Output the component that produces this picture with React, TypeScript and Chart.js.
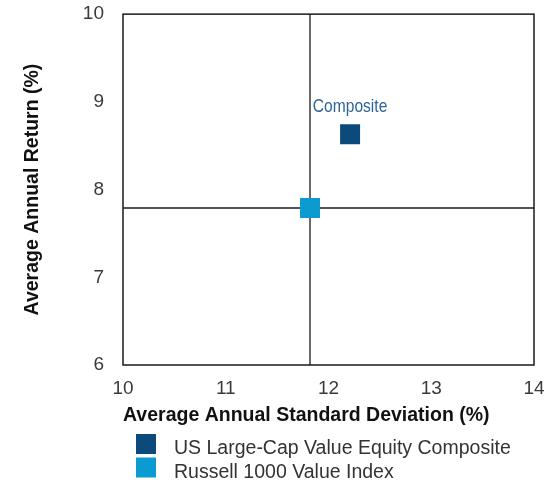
import React, { useEffect, useRef } from "react";
import { Chart, registerables } from "chart.js";

Chart.register(...registerables);

const seriesNames = ["US Large-Cap Value Equity Composite", "Russell 1000 Value Index"];
const stdDevValues = [12.21, 11.82];
const returnValues = [8.63, 7.79];
const pointLabels = ["Composite", ""];
const seriesColors = ["#0c4a7c", "#0b9bd1"];
const xTicks = [10, 11, 12, 13, 14];
const yTicks = [6, 7, 8, 9, 10];
const xTitle = "Average Annual Standard Deviation (%)";
const yTitle = "Average Annual Return (%)";
const benchmarkIndex = 1;

const FONT = "'Liberation Sans', Arial, sans-serif";

export default function App() {
  const ref = useRef<HTMLCanvasElement | null>(null);

  useEffect(() => {
    document.body.style.margin = "0";
    const canvas = ref.current;
    if (!canvas) return;

    const frame = {
      id: "frameAndCross",
      beforeDatasetsDraw(chart: any) {
        const { ctx, chartArea: a, scales } = chart;
        ctx.save();
        ctx.strokeStyle = "#1a1a1a";
        ctx.lineWidth = 1.3;
        const bx = scales.x.getPixelForValue(stdDevValues[benchmarkIndex]);
        const by = scales.y.getPixelForValue(returnValues[benchmarkIndex]);
        ctx.beginPath();
        ctx.moveTo(bx, a.top);
        ctx.lineTo(bx, a.bottom);
        ctx.moveTo(a.left, by);
        ctx.lineTo(a.right, by);
        ctx.stroke();
        ctx.lineWidth = 1.5;
        ctx.strokeRect(a.left, a.top, a.right - a.left, a.bottom - a.top);
        ctx.restore();
      },
      afterDatasetsDraw(chart: any) {
        const { ctx } = chart;
        chart.data.datasets.forEach((ds: any, i: number) => {
          const label = pointLabels[i];
          if (!label) return;
          const el = chart.getDatasetMeta(i).data[0];
          ctx.save();
          ctx.translate(el.x, el.y - 22);
          ctx.scale(0.82, 1);
          ctx.font = `19px ${FONT}`;
          ctx.fillStyle = "#2c6699";
          ctx.textAlign = "center";
          ctx.textBaseline = "alphabetic";
          ctx.fillText(label, 0, 0);
          ctx.restore();
        });
        // legend
        ctx.save();
        const lx = 136;
        const ly = 434;
        const pitch = 23.5;
        chart.data.datasets.forEach((ds: any, i: number) => {
          ctx.fillStyle = ds.backgroundColor;
          ctx.fillRect(lx, ly + i * pitch, 20, 20);
          ctx.fillStyle = "#333";
          ctx.font = `19.5px ${FONT}`;
          ctx.textAlign = "left";
          ctx.textBaseline = "middle";
          ctx.fillText(ds.label, lx + 38, ly + i * pitch + 15);
        });
        ctx.restore();
      },
    };

    const chart = new Chart(canvas, {
      type: "scatter",
      data: {
        datasets: seriesNames.map((name, i) => ({
          label: name,
          data: [{ x: stdDevValues[i], y: returnValues[i] }],
          backgroundColor: seriesColors[i],
          borderColor: seriesColors[i],
          borderWidth: 0,
          pointStyle: "rect",
          pointRadius: 14.14,
          pointHoverRadius: 14.14,
        })),
      },
      options: {
        responsive: false,
        animation: false,
        layout: { padding: { top: 12, right: 17, left: 0, bottom: 0 } },
        plugins: { legend: { display: false }, tooltip: { enabled: false } },
        scales: {
          x: {
            type: "linear",
            min: xTicks[0],
            max: xTicks[xTicks.length - 1],
            afterBuildTicks: (s: any) => {
              s.ticks = xTicks.map((v) => ({ value: v }));
            },
            afterFit: (s: any) => {
              s.height = 120;
              s.paddingLeft = 0;
              s.paddingRight = 0;
            },
            grid: { display: false, drawTicks: false },
            border: { display: false },
            ticks: {
              padding: 12,
              color: "#3a3a3a",
              font: { family: FONT, size: 19 },
              maxRotation: 0,
            },
            title: {
              display: true,
              text: xTitle,
              align: "start",
              color: "#111",
              font: { family: FONT, size: 19.5, weight: "bold" },
              padding: { top: 0, bottom: 58 },
            },
          },
          y: {
            type: "linear",
            min: yTicks[0],
            max: yTicks[yTicks.length - 1],
            afterBuildTicks: (s: any) => {
              s.ticks = yTicks.map((v) => ({ value: v }));
            },
            afterFit: (s: any) => {
              s.width = 123;
              s.paddingTop = 0;
              s.paddingBottom = 0;
            },
            grid: { display: false, drawTicks: false },
            border: { display: false },
            ticks: {
              padding: 19,
              color: "#3a3a3a",
              font: { family: FONT, size: 19 },
            },
            title: {
              display: true,
              text: yTitle,
              color: "#111",
              font: { family: FONT, size: 19.5, weight: "bold" },
              padding: { top: 21, bottom: 0 },
            },
          },
        },
      },
      plugins: [frame],
    } as any);

    return () => chart.destroy();
  }, []);

  return (
    <div style={{ width: 551, height: 485 }}>
      <canvas ref={ref} width={551} height={485} />
    </div>
  );
}
